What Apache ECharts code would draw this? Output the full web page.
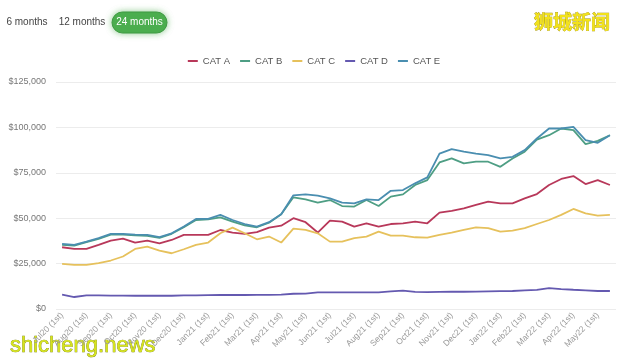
<!DOCTYPE html>
<html><head><meta charset="utf-8">
<script src="https://cdn.jsdelivr.net/npm/echarts@6/dist/echarts.min.js"></script>
<style>html,body{margin:0;padding:0;background:#fff}#c{width:628px;height:358px}</style>
</head><body><div id="c"></div>
<script>
const months = ['Jul20','Aug20','Sep20','Oct20','Nov20','Dec20','Jan21','Feb21','Mar21','Apr21','May21','Jun21','Jul21','Aug21','Sep21','Oct21','Nov21','Dec21','Jan22','Feb22','Mar22','Apr22','May22'];
const categories = [];
months.forEach(m => { categories.push(m + ' (1st)'); categories.push(m + ' (2nd)'); });

const catA = [34000,33100,33100,35300,37700,38800,36600,37700,36200,38000,40800,40800,40800,43500,42100,41400,42300,44800,45900,50000,47800,42100,48700,48100,45400,47200,45400,46800,47200,48100,47200,53100,54000,55400,57300,59100,58200,58200,60900,63300,68300,71600,73200,68800,71000,68300];
const catB = [35300,34900,36800,38600,41000,41000,40500,40300,39200,41400,45000,49000,49300,50500,48100,46100,45000,47500,52200,61500,60400,58600,60000,56700,56400,60000,56700,61900,63100,68300,71000,80700,82900,80200,81100,81100,78300,82900,86600,93300,95700,99400,98500,90800,92600,95700];
const catC = [24900,24300,24300,25300,26700,28900,33100,34400,32200,30700,32900,35300,36600,41700,44800,41700,38400,39900,36600,44300,43600,41700,37100,37100,39000,39900,42600,40400,40400,39500,39300,40800,42100,43600,45000,44500,42600,43200,44500,46800,49000,51800,55100,52700,51400,51800];
const catD = [7900,6600,7500,7500,7400,7400,7300,7300,7300,7300,7500,7500,7600,7700,7700,7700,7800,7800,7900,8400,8500,9100,9150,9150,9150,9150,9150,9700,10100,9400,9300,9400,9500,9500,9600,9700,9800,9900,10250,10500,11500,11000,10600,10300,9900,9900];
const catE = [35900,35300,37100,39000,41400,41400,41000,40800,39600,41700,45400,49600,49600,51800,49000,46800,45400,47800,52200,62600,63100,62400,60900,58600,58200,60400,60000,65100,65500,69200,72500,85600,88000,86600,85600,84700,82900,83800,87500,93900,99400,99400,100300,93000,91500,95700];
const yTicks = [0,25000,50000,75000,100000,125000];
const seriesNames = ['CAT A','CAT B','CAT C','CAT D','CAT E'];
const colors = ['#b8385a','#4e9e84','#e6c15c','#6459b0','#4a8eb0'];

const chart = echarts.init(document.getElementById('c'), null, {renderer:'canvas'});
const font = 'Liberation Sans, Arial, sans-serif';
const data = [catA, catB, catC, catD, catE];
chart.setOption({
  animation:false,
  backgroundColor:'#fff',
  color: colors,
  textStyle:{fontFamily:font},
  legend:{
    top:51, left:'center', icon:'rect', itemWidth:10, itemHeight:2, itemGap:10,
    textStyle:{fontSize:9.5, color:'#555', fontFamily:font},
    data: seriesNames
  },
  grid:{left:56, right:12, top:82, bottom:49, containLabel:false},
  xAxis:{
    type:'category', data:categories, boundaryGap:true,
    axisLine:{show:false}, axisTick:{show:false},
    axisLabel:{interval:1, rotate:45, fontSize:8.5, color:'#999', margin:5, fontFamily:font}
  },
  yAxis:{
    type:'value', min:yTicks[0], max:yTicks[yTicks.length-1], interval:25000,
    axisLine:{show:false}, axisTick:{show:false},
    splitLine:{lineStyle:{color:'#ececec', width:1}},
    axisLabel:{fontSize:9, color:'#777', margin:10, fontFamily:font,
      formatter: v => '$' + v.toLocaleString('en-US')}
  },
  series: seriesNames.map((n,i)=>({
    name:n, type:'line', data:data[i], showSymbol:false, symbol:'none',
    lineStyle:{width:1.8, color:colors[i]}, itemStyle:{color:colors[i]}
  })),
  graphic:[
    {type:'rect', shape:{x:112, y:12, width:55, height:21, r:10.5},
      style:{fill:'#4cae4f', stroke:'#3e9a42', lineWidth:1, shadowBlur:6, shadowColor:'rgba(76,174,79,0.6)'}},
    {type:'text', style:{x:139.5, y:22.5, text:'24 months', fill:'#ffffff', fontSize:10, fontFamily:font, align:'center', verticalAlign:'middle'}},
    {type:'text', style:{x:27, y:22.5, text:'6 months', fill:'#444', fontSize:10, fontFamily:font, align:'center', verticalAlign:'middle'}},
    {type:'text', style:{x:82, y:22.5, text:'12 months', fill:'#444', fontSize:10, fontFamily:font, align:'center', verticalAlign:'middle'}},
    {type:'text', style:{x:572, y:22, text:'狮城新闻', fill:'#f2e21a', fontSize:19, fontWeight:'bold', fontFamily:'Noto Sans CJK SC', align:'center', verticalAlign:'middle', stroke:'#9a8a10', lineWidth:0.6, shadowBlur:2, shadowColor:'rgba(0,0,0,0.5)', shadowOffsetX:1, shadowOffsetY:1}},
    {type:'text', style:{x:10, y:346, text:'shicheng.news', fill:'#d6e41c', fontSize:22, fontFamily:font, align:'left', verticalAlign:'middle', stroke:'#6a7000', lineWidth:0.6, shadowBlur:2, shadowColor:'rgba(0,0,0,0.6)', shadowOffsetX:1, shadowOffsetY:1}}
  ]
});
</script></body></html>
